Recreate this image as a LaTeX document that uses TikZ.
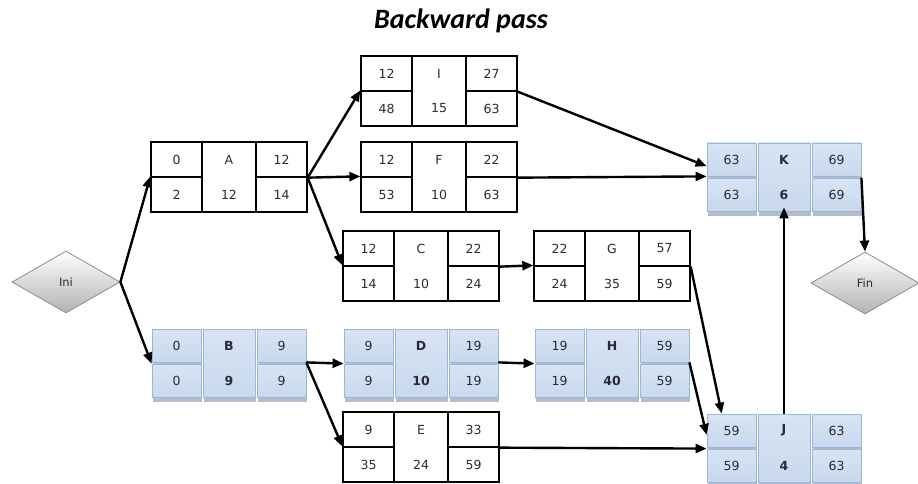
\documentclass[tikz,border=0pt]{standalone}
\usepackage{fontspec}
\setmainfont{DejaVu Sans}
\newfontfamily\titlefont{Carlito}
\usetikzlibrary{shapes.geometric,shadows,arrows.meta}
\definecolor{celltop}{HTML}{D9E4F3}
\definecolor{cellmid}{HTML}{F7F9FD}
\definecolor{cellbot}{HTML}{C8D8EE}
\definecolor{cellline}{HTML}{9AB6DA}
\definecolor{shadowblue}{HTML}{B3BDCB}
\definecolor{diagray}{HTML}{8E8E8E}
\definecolor{txtgray}{HTML}{2A2A36}
\tikzset{
	wcell/.style={draw=black,line width=1.3pt,minimum width=51pt,minimum height=35pt,inner sep=0pt,text=txtgray,font=\fontsize{12.5}{14}\selectfont},
	wmid/.style={wcell,minimum width=54pt,minimum height=70pt},
	wtxt/.style={inner sep=0pt,text=txtgray,font=\fontsize{12.5}{14}\selectfont},
	bcell/.style={draw=cellline,line width=0.8pt,top color=celltop,middle color=cellmid,bottom color=cellbot,
		drop shadow={shadow xshift=1pt,shadow yshift=-5pt,fill=shadowblue,opacity=1},
		minimum width=49pt,minimum height=33pt,inner sep=0pt,text=txtgray,font=\fontsize{12.5}{14}\selectfont},
	bmid/.style={bcell,minimum width=52pt,minimum height=68pt},
	btxt/.style={wtxt,font=\fontsize{12.5}{14}\selectfont\bfseries},
	dia/.style={diamond,draw=diagray,line width=0.8pt,top color=white,bottom color=gray!60,minimum width=108pt,minimum height=62pt,inner sep=0pt,text=txtgray,font=\fontsize{11.5}{13}\selectfont},
	arr/.style={-{Triangle[length=11pt,width=9pt]},line width=2.4pt},
	heading/.style={font=\titlefont\bfseries\itshape\fontsize{28}{32}\selectfont}
}
\newcommand{\actbox}[9]{%
	\path (#3) coordinate (#1);
	\node[#2cell] (#1-es) at ([shift={(25.5,17.5)}]#1) {#4};
	\node[#2cell] (#1-ls) at ([shift={(25.5,52.5)}]#1) {#7};
	\node[#2mid] (#1-mid) at ([shift={(78,35)}]#1) {};
	\node[#2cell] (#1-ef) at ([shift={(130.5,17.5)}]#1) {#6};
	\node[#2cell] (#1-lf) at ([shift={(130.5,52.5)}]#1) {#9};
	\node[#2txt] (#1-n) at ([shift={(78,17.5)}]#1) {#5};
	\node[#2txt] (#1-d) at ([shift={(78,52.5)}]#1) {#8};
}
\begin{document}
\begin{tikzpicture}[x=1pt,y=-1pt]
	\useasboundingbox (0,0) rectangle (918,484);
	\node[heading] (title) at (461,21) {Backward pass};
	\node[dia] (ini) at (66,282) {Ini};
	\node[dia] (fin) at (865,283) {Fin};
	\actbox{I}{w}{361,56}{12}{I}{27}{48}{15}{63}
	\actbox{A}{w}{151,142}{0}{A}{12}{2}{12}{14}
	\actbox{F}{w}{361,142}{12}{F}{22}{53}{10}{63}
	\actbox{C}{w}{343,231}{12}{C}{22}{14}{10}{24}
	\actbox{G}{w}{534,231}{22}{G}{57}{24}{35}{59}
	\actbox{B}{b}{151,328}{0}{B}{9}{0}{9}{9}
	\actbox{D}{b}{343,328}{9}{D}{19}{9}{10}{19}
	\actbox{H}{b}{534,328}{19}{H}{59}{19}{40}{59}
	\actbox{E}{w}{343,412}{9}{E}{33}{35}{24}{59}
	\actbox{K}{b}{706,142}{63}{K}{69}{63}{6}{69}
	\actbox{J}{b}{706,413}{59}{J}{63}{59}{4}{63}
	\draw[arr] (ini.east) -- (A-ls.north west);
	\draw[arr] (ini.east) -- (B-ls.north west);
	\draw[arr] (A-ef.south east) -- (I-ls.north west);
	\draw[arr] (A-ef.south east) -- (F-ls.north west);
	\draw[arr] (A-ef.south east) -- (C-ls.north west);
	\draw[arr] (C-ef.south east) -- (G-ls.north west);
	\draw[arr] (I-ef.south east) -- (K-es.195);
	\draw[arr] (F-ef.south east) -- (K-es.south west);
	\draw[arr] (B-ef.south east) -- (D-ls.north west);
	\draw[arr] (B-ef.south east) -- (E-ls.north west);
	\draw[arr] (D-ef.south east) -- (H-ls.north west);
	\draw[arr] (G-ef.south east) -- (J-es.120);
	\draw[arr] (H-ef.south east) -- (J-es.190);
	\draw[arr] (E-ef.south east) -- (J-ls.north west);
	\draw[arr,shorten >=-4pt] (J-mid.north) -- (K-mid.south);
	\draw[arr] (K-lf.north east) -- (fin.north);
\end{tikzpicture}
\end{document}
